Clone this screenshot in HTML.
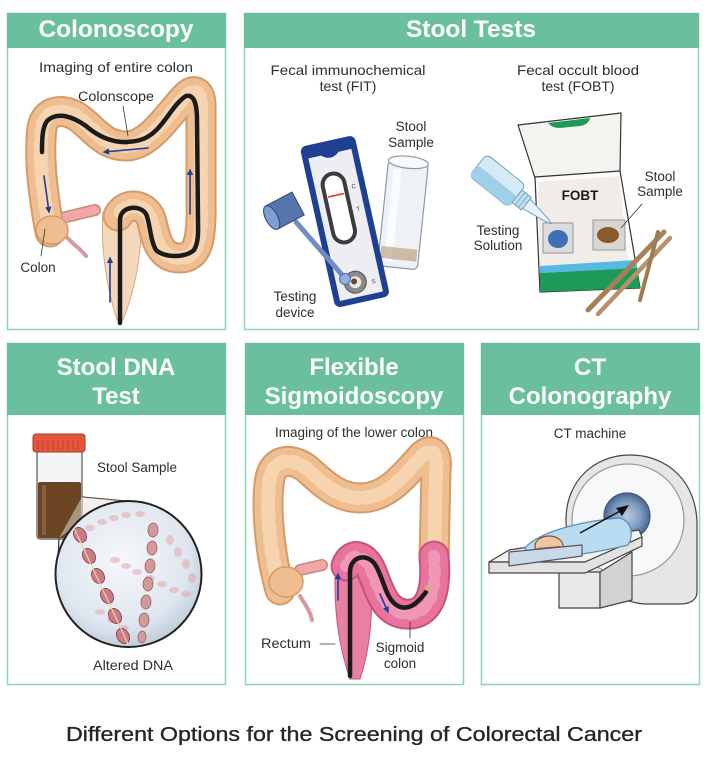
<!DOCTYPE html>
<html><head><meta charset="utf-8"><style>
html,body{margin:0;padding:0;background:#fff;}
svg{display:block;}
</style></head><body>
<svg width="712" height="776" viewBox="0 0 712 776" xmlns="http://www.w3.org/2000/svg" font-family="'Liberation Sans', Arial, sans-serif">
<defs>
<radialGradient id="lens" cx="0.45" cy="0.4" r="0.65">
<stop offset="0" stop-color="#f6f8fb"/><stop offset="0.7" stop-color="#dfe6ef"/><stop offset="1" stop-color="#b9c6d6"/>
</radialGradient>
<radialGradient id="bore" cx="0.5" cy="0.5" r="0.5">
<stop offset="0" stop-color="#b8cbe0"/><stop offset="0.6" stop-color="#7f9cc0"/><stop offset="1" stop-color="#4a6790"/>
</radialGradient>
<marker id="ah" viewBox="0 0 10 10" refX="8" refY="5" markerWidth="4" markerHeight="4" orient="auto"><path d="M0,0 L10,5 L0,10 z" fill="#1d3f9a"/></marker>
</defs>
<rect width="712" height="776" fill="#fff"/>

<!-- Panels -->
<g fill="#fff" stroke="#8fd2b8" stroke-width="1.5">
<rect x="7.5" y="13.5" width="218" height="316"/>
<rect x="244.5" y="13.5" width="454" height="316"/>
<rect x="7.5" y="343.5" width="218" height="341"/>
<rect x="245.5" y="343.5" width="218" height="341"/>
<rect x="481.5" y="343.5" width="218" height="341"/>
</g>
<g fill="#69bf9e">
<rect x="7" y="13" width="219" height="35"/>
<rect x="244" y="13" width="455" height="35"/>
<rect x="7" y="343" width="219" height="72"/>
<rect x="245" y="343" width="219" height="72"/>
<rect x="481" y="343" width="219" height="72"/>
</g>
<g fill="#fff" font-weight="bold" font-size="24" text-anchor="middle">
<text x="116" y="37" textLength="155" lengthAdjust="spacingAndGlyphs">Colonoscopy</text>
<text x="471" y="37" textLength="130" lengthAdjust="spacingAndGlyphs">Stool Tests</text>
<text x="116" y="375">Stool DNA</text>
<text x="116" y="404">Test</text>
<text x="354" y="375">Flexible</text>
<text x="354" y="404">Sigmoidoscopy</text>
<text x="590" y="375">CT</text>
<text x="590" y="404">Colonography</text>
</g>

<!-- Subtitles -->
<g fill="#2e2e2e" font-size="14" text-anchor="middle">
<text x="116" y="72" textLength="154" lengthAdjust="spacingAndGlyphs">Imaging of entire colon</text>
<text x="348" y="75" textLength="155" lengthAdjust="spacingAndGlyphs">Fecal immunochemical</text>
<text x="348" y="91">test (FIT)</text>
<text x="578" y="75" textLength="122" lengthAdjust="spacingAndGlyphs">Fecal occult blood</text>
<text x="578" y="91">test (FOBT)</text>
<text x="354" y="437" font-size="13.5" textLength="158" lengthAdjust="spacingAndGlyphs">Imaging of the lower colon</text>
<text x="590" y="438" font-size="13.5">CT machine</text>
</g>

<!-- ===== Colonoscopy colon ===== -->
<g fill="none" stroke-linecap="round" stroke-linejoin="round">
<path d="M62 218 L95 210" stroke="#c98a74" stroke-width="12"/>
<path d="M62 218 L95 210" stroke="#f0a7a8" stroke-width="9"/>
<path d="M66 236 C72 244, 80 248, 86 256" stroke="#d49aa0" stroke-width="4"/>
<path d="M103 212 C100 250, 108 292, 117 320 L123 320 C135 290, 143 250, 141 212 Z" fill="#f4d8bc" stroke="#d9a97c" stroke-width="1"/>
<path d="M50 232 C44 200, 38 160, 42 128 C45 110, 62 108, 76 116 C92 126, 102 146, 126 146 C150 146, 170 112, 186 96 C196 86, 202 94, 201 110 L201 200 C202 240, 198 258, 180 258 C160 258, 156 240, 152 222 C148 204, 126 200, 118 216" stroke="#d49a68" stroke-width="31"/>
<path d="M50 232 C44 200, 38 160, 42 128 C45 110, 62 108, 76 116 C92 126, 102 146, 126 146 C150 146, 170 112, 186 96 C196 86, 202 94, 201 110 L201 200 C202 240, 198 258, 180 258 C160 258, 156 240, 152 222 C148 204, 126 200, 118 216" stroke="#efbe90" stroke-width="27"/>
<path d="M50 232 C44 200, 38 160, 42 128 C45 110, 62 108, 76 116 C92 126, 102 146, 126 146 C150 146, 170 112, 186 96 C196 86, 202 94, 201 110 L201 200 C202 240, 198 258, 180 258 C160 258, 156 240, 152 222 C148 204, 126 200, 118 216" stroke="#f6d4b0" stroke-width="14" stroke-dasharray="5 7"/>
<ellipse cx="52" cy="230" rx="16" ry="14" fill="#efbe90" stroke="#d49a68" stroke-width="1.5"/>
<path d="M120 323 L120 220 C120 206, 140 204, 146 214 C150 222, 150 240, 156 250 C164 258, 186 258, 194 250 C199 242, 198 230, 198 222 L197 120 C197 104, 194 94, 186 96 C170 106, 162 134, 140 140 C118 146, 100 138, 86 126 C72 116, 58 112, 48 120 C42 126, 42 140, 42 152" stroke="#1b1b1b" stroke-width="4.5"/>
<g stroke="#1d3f9a" stroke-width="1.6">
<path d="M148 148 L104 152" marker-end="url(#ah)"/>
<path d="M190 214 L190 170" marker-end="url(#ah)"/>
<path d="M44 176 L49 212" marker-end="url(#ah)"/>
<path d="M110 302 L110 258" marker-end="url(#ah)"/>
</g>
<path d="M123 106 L128 136" stroke="#333" stroke-width="0.8"/>
<path d="M45 229 L41 256" stroke="#333" stroke-width="0.8"/>
</g>
<g fill="#2e2e2e" font-size="13.5" text-anchor="middle">
<text x="116" y="101" textLength="76" lengthAdjust="spacingAndGlyphs">Colonscope</text>
<text x="38" y="272">Colon</text>
</g>

<!-- ===== FIT ===== -->
<g>
<g transform="rotate(6 403 214)">
<rect x="383" y="162" width="40" height="106" rx="5" fill="#eef2f6" stroke="#8d98a6" stroke-width="1.2"/>
<rect x="389" y="170" width="8" height="92" fill="#fbfcfd"/>
<rect x="385" y="248" width="36" height="12" fill="#b08a66" opacity="0.55"/>
<ellipse cx="403" cy="162" rx="20" ry="6" fill="#f8fafc" stroke="#8d98a6" stroke-width="1.2"/>
</g>
<g transform="rotate(-12.5 345 222)">
<rect x="317" y="139" width="56" height="165" rx="6" fill="#1f3f93"/>
<path d="M323 152 L336 152 Q345 160 354 152 L367 152 L367 298 L323 298 Z" fill="#eceef2"/>
<rect x="331" y="172" width="22" height="70" rx="11" fill="#fff" stroke="#3c3c3c" stroke-width="4"/>
<line x1="334" y1="194" x2="350" y2="194" stroke="#e23a3a" stroke-width="1.6"/>
<text x="359" y="191" font-size="6" fill="#335">C</text>
<text x="359" y="214" font-size="6" fill="#335">T</text>
<text x="358" y="288" font-size="6" fill="#335">S</text>
<circle cx="342" cy="283" r="11" fill="#8a8a8a" stroke="#555" stroke-width="1"/>
<circle cx="342" cy="283" r="6" fill="#ece8e2"/>
<circle cx="341" cy="282" r="3" fill="#6b4a2a"/>
</g>
<line x1="296" y1="222" x2="343" y2="276" stroke="#6f8dc4" stroke-width="5" stroke-linecap="round"/>
<circle cx="345" cy="279" r="5.5" fill="#8fb0e0" stroke="#4e6ea6" stroke-width="1"/>
<g transform="rotate(-28 284 211)">
<rect x="270" y="198" width="30" height="26" fill="#5775ad" stroke="#2c447a" stroke-width="1"/>
<ellipse cx="270" cy="211" rx="6" ry="13" fill="#7f9fd1" stroke="#2c447a" stroke-width="1"/>
</g>
</g>
<g fill="#2e2e2e" font-size="13.5" text-anchor="middle">
<text x="411" y="131">Stool</text>
<text x="411" y="147">Sample</text>
<text x="295" y="301">Testing</text>
<text x="295" y="317">device</text>
</g>

<!-- ===== FOBT ===== -->
<g stroke-linejoin="round">
<polygon points="518,125 621,113 620,172 535,178" fill="#f5f3ef" stroke="#333" stroke-width="1.2"/>
<path d="M548 123 Q552 128 560 128 L580 126 Q588 125 590 118 Z" fill="#1d9a58"/>
<polygon points="535,177 620,171 640,288 540,292" fill="#fbfbfa" stroke="#333" stroke-width="1.2"/>
<polygon points="538,182 619,176 628,262 540,266" fill="#f0ece8"/>
<polygon points="540,266 636,260 637,268 540,273" fill="#55b9e2"/>
<polygon points="540,273 637,268 640,288 540,292" fill="#1e9a58"/>
<rect x="543" y="223" width="30" height="30" fill="#dcdcdc" stroke="#999" stroke-width="1"/>
<ellipse cx="558" cy="239" rx="10" ry="9" fill="#3f6fb6"/>
<rect x="593" y="220" width="32" height="30" fill="#d8d6d2" stroke="#999" stroke-width="1"/>
<ellipse cx="608" cy="235" rx="11" ry="8" fill="#8a5a2c"/>
<line x1="621" y1="228" x2="642" y2="204" stroke="#333" stroke-width="0.8"/>
<text x="580" y="200" font-size="13.5" font-weight="bold" fill="#1a1a1a" text-anchor="middle">FOBT</text>
<line x1="588" y1="310" x2="664" y2="232" stroke="#a88057" stroke-width="5" stroke-linecap="round"/>
<line x1="598" y1="314" x2="670" y2="238" stroke="#b99068" stroke-width="4.5" stroke-linecap="round"/>
<line x1="640" y1="300" x2="658" y2="232" stroke="#9f7a52" stroke-width="4" stroke-linecap="round"/>
<g transform="rotate(38.7 478 165)">
<rect x="478" y="151" width="50" height="28" rx="5" fill="#d4ebf6" stroke="#6fa0c0" stroke-width="1"/>
<rect x="478" y="165" width="50" height="14" rx="4" fill="#9fd0ea"/>
<rect x="528" y="157" width="12" height="16" fill="#bfe0f0" stroke="#6fa0c0" stroke-width="1"/>
<line x1="532" y1="157" x2="532" y2="173" stroke="#6fa0c0" stroke-width="0.8"/>
<line x1="536" y1="157" x2="536" y2="173" stroke="#6fa0c0" stroke-width="0.8"/>
<polygon points="540,159 566,163 572,165 566,167 540,171" fill="#e7f3f9" stroke="#6fa0c0" stroke-width="1"/>
</g>
</g>
<g fill="#2e2e2e" font-size="13.5" text-anchor="middle">
<text x="498" y="235">Testing</text>
<text x="498" y="250">Solution</text>
<text x="660" y="181">Stool</text>
<text x="660" y="196">Sample</text>
</g>

<!-- ===== Stool DNA ===== -->
<g>
<rect x="37" y="450" width="45" height="89" rx="3" fill="#f4f5f6" stroke="#555" stroke-width="1.2"/>
<rect x="38" y="482" width="43" height="56" rx="2" fill="#6b4423"/>
<rect x="42" y="485" width="4" height="50" fill="#8a5e38"/>
<rect x="33" y="434" width="52" height="18" rx="3" fill="#e5563c" stroke="#a63a26" stroke-width="1"/>
<g stroke="#b8422c" stroke-width="0.9">
<line x1="38" y1="440" x2="38" y2="450"/><line x1="43" y1="440" x2="43" y2="450"/><line x1="48" y1="440" x2="48" y2="450"/><line x1="53" y1="440" x2="53" y2="450"/><line x1="58" y1="440" x2="58" y2="450"/><line x1="63" y1="440" x2="63" y2="450"/><line x1="68" y1="440" x2="68" y2="450"/><line x1="73" y1="440" x2="73" y2="450"/><line x1="78" y1="440" x2="78" y2="450"/>
</g>
<path d="M82 497 L125 501" stroke="#333" stroke-width="1.2" fill="none"/>
<path d="M59 538 L58 560" stroke="#333" stroke-width="1.2" fill="none"/>
<polygon points="82,497 125,501 70,530 59,538" fill="#e8e4de" opacity="0.5"/>
<circle cx="128.5" cy="574" r="73" fill="url(#lens)" stroke="#222" stroke-width="2"/>
<g fill="#e3a9aa" opacity="0.55">
<ellipse cx="90" cy="528" rx="5" ry="3"/><ellipse cx="102" cy="522" rx="5" ry="3"/><ellipse cx="114" cy="518" rx="5" ry="3"/><ellipse cx="126" cy="515" rx="5" ry="3"/><ellipse cx="140" cy="514" rx="5" ry="3"/>
<ellipse cx="115" cy="560" rx="5" ry="3"/><ellipse cx="126" cy="566" rx="5" ry="3"/><ellipse cx="137" cy="572" rx="5" ry="3"/><ellipse cx="150" cy="578" rx="5" ry="3"/><ellipse cx="162" cy="584" rx="5" ry="3"/><ellipse cx="174" cy="590" rx="5" ry="3"/><ellipse cx="186" cy="594" rx="5" ry="3"/>
<ellipse cx="170" cy="540" rx="4" ry="5"/><ellipse cx="178" cy="552" rx="4" ry="5"/><ellipse cx="186" cy="564" rx="4" ry="5"/><ellipse cx="192" cy="578" rx="4" ry="5"/>
<ellipse cx="100" cy="612" rx="5" ry="3"/><ellipse cx="112" cy="620" rx="5" ry="3"/><ellipse cx="124" cy="628" rx="5" ry="3"/>
</g>
<g fill="#c77d84" stroke="#8a3b44" stroke-width="0.8">
<ellipse cx="80" cy="535" rx="8" ry="6" transform="rotate(60 80 535)"/>
<ellipse cx="89" cy="556" rx="8" ry="6" transform="rotate(60 89 556)"/>
<ellipse cx="98" cy="576" rx="8" ry="6" transform="rotate(60 98 576)"/>
<ellipse cx="107" cy="596" rx="8" ry="6" transform="rotate(60 107 596)"/>
<ellipse cx="115" cy="616" rx="8" ry="6" transform="rotate(60 115 616)"/>
<ellipse cx="123" cy="636" rx="8" ry="6" transform="rotate(60 123 636)"/>
</g>
<g fill="#d39a9c" stroke="#9a5a5e" stroke-width="0.7">
<ellipse cx="153" cy="530" rx="7" ry="5" transform="rotate(95 153 530)"/>
<ellipse cx="152" cy="548" rx="7" ry="5" transform="rotate(95 152 548)"/>
<ellipse cx="150" cy="566" rx="7" ry="5" transform="rotate(95 150 566)"/>
<ellipse cx="148" cy="584" rx="7" ry="5" transform="rotate(95 148 584)"/>
<ellipse cx="146" cy="602" rx="7" ry="5" transform="rotate(95 146 602)"/>
<ellipse cx="144" cy="620" rx="7" ry="5" transform="rotate(95 144 620)"/>
<ellipse cx="142" cy="637" rx="6" ry="4" transform="rotate(95 142 637)"/>
</g>
<path d="M74 528 L128 644" stroke="#f2d2a8" stroke-width="1.2" fill="none"/>
</g>
<g fill="#2e2e2e" font-size="13.5" text-anchor="middle">
<text x="137" y="472" textLength="80" lengthAdjust="spacingAndGlyphs">Stool Sample</text>
<text x="133" y="670" textLength="80" lengthAdjust="spacingAndGlyphs">Altered DNA</text>
</g>

<!-- ===== Flexible Sigmoidoscopy ===== -->
<g fill="none" stroke-linecap="round" stroke-linejoin="round">
<path d="M300 570 L322 565" stroke="#c98a74" stroke-width="12"/>
<path d="M300 570 L322 565" stroke="#f0a7a8" stroke-width="9"/>
<path d="M300 596 C305 605, 310 610, 312 620" stroke="#d49aa0" stroke-width="4"/>
<path d="M280 590 C270 555, 265 505, 270 478 C274 458, 292 458, 306 468 C320 480, 336 498, 360 498 C390 498, 408 470, 422 456 C432 446, 438 454, 436 470 L434 560" stroke="#d49a68" stroke-width="31"/>
<path d="M280 590 C270 555, 265 505, 270 478 C274 458, 292 458, 306 468 C320 480, 336 498, 360 498 C390 498, 408 470, 422 456 C432 446, 438 454, 436 470 L434 560" stroke="#efbe90" stroke-width="27"/>
<path d="M280 590 C270 555, 265 505, 270 478 C274 458, 292 458, 306 468 C320 480, 336 498, 360 498 C390 498, 408 470, 422 456 C432 446, 438 454, 436 470 L434 560" stroke="#f6d4b0" stroke-width="14" stroke-dasharray="5 7"/>
<ellipse cx="286" cy="582" rx="17" ry="15" fill="#efbe90" stroke="#d49a68" stroke-width="1.5"/>
<path d="M336 556 C332 610, 340 650, 350 679 L360 679 C373 640, 373 600, 370 556 Z" fill="#ea7fa6" stroke="#c9527e" stroke-width="1"/>
<path d="M434 556 C438 600, 425 616, 405 614 C385 612, 380 592, 372 572 C366 556, 352 550, 346 566" stroke="#c9527e" stroke-width="31"/>
<path d="M434 556 C438 600, 425 616, 405 614 C385 612, 380 592, 372 572 C366 556, 352 550, 346 566" stroke="#e8739c" stroke-width="27"/>
<path d="M434 556 C438 600, 425 616, 405 614 C385 612, 380 592, 372 572 C366 556, 352 550, 346 566" stroke="#f096b6" stroke-width="12" stroke-dasharray="5 8"/>
<path d="M350 676 L350 572 C350 556, 368 552, 376 566 C384 580, 386 600, 398 606 C410 612, 420 600, 426 592" stroke="#1b1b1b" stroke-width="4.5"/>
<circle cx="428" cy="588" r="3" fill="#d4b070"/>
<g stroke="#1d3f9a" stroke-width="1.6">
<path d="M338 600 L338 574" marker-end="url(#ah)"/>
<path d="M380 594 L388 612" marker-end="url(#ah)"/>
</g>
<path d="M320 644 L335 644" stroke="#333" stroke-width="0.8"/>
<path d="M410 622 L410 638" stroke="#333" stroke-width="0.8"/>
</g>
<g fill="#2e2e2e" font-size="13.5" text-anchor="middle">
<text x="286" y="648" textLength="50" lengthAdjust="spacingAndGlyphs">Rectum</text>
<text x="400" y="652">Sigmoid</text>
<text x="400" y="668">colon</text>
</g>

<!-- ===== CT ===== -->
<g stroke="#444" stroke-width="1.2" stroke-linejoin="round">
<path d="M566 520 C566 480, 595 455, 630 455 C668 455, 697 482, 697 525 L697 592 C697 600, 690 604, 680 604 L645 604 C600 600, 566 565, 566 520 Z" fill="#e4e6e8"/>
<circle cx="628" cy="520" r="56" fill="#f7f8f9" stroke="#999"/>
<circle cx="627" cy="516" r="23" fill="url(#bore)" stroke="#3f5676"/>
<polygon points="559,572 600,572 600,608 559,608" fill="#e9e9e9"/>
<polygon points="600,572 632,552 632,600 600,608" fill="#d3d3d3"/>
<polygon points="489,562 509,550 639,530 642,537 585,562" fill="#f2f2f2"/>
<polygon points="489,562 585,562 642,537 642,546 585,573 489,573" fill="#e2e2e2"/>
<path d="M525 548 C540 530, 590 520, 620 518 C632 522, 634 535, 628 545 C600 552, 560 558, 530 560 Z" fill="#b9dcf2" stroke="#5b8fb5"/>
<ellipse cx="549" cy="546" rx="14" ry="10" fill="#f1c7a3" stroke="#7a5030"/>
<path d="M537 548 C540 556, 556 558, 563 552 L560 546 Z" fill="#a0622e" stroke="none"/>
<path d="M509 552 L582 545 L582 556 L509 566 Z" fill="#c9d9e8" stroke="#556"/>
</g>
<path d="M580 533 L622 510" stroke="#111" stroke-width="1.5"/>
<polygon points="629,505 616,508 622,516" fill="#111"/>

<!-- Caption -->
<text x="354" y="741" font-size="20" fill="#262626" text-anchor="middle" textLength="576" lengthAdjust="spacingAndGlyphs" stroke="#262626" stroke-width="0.35">Different Options for the Screening of Colorectal Cancer</text>
</svg>
</body></html>
